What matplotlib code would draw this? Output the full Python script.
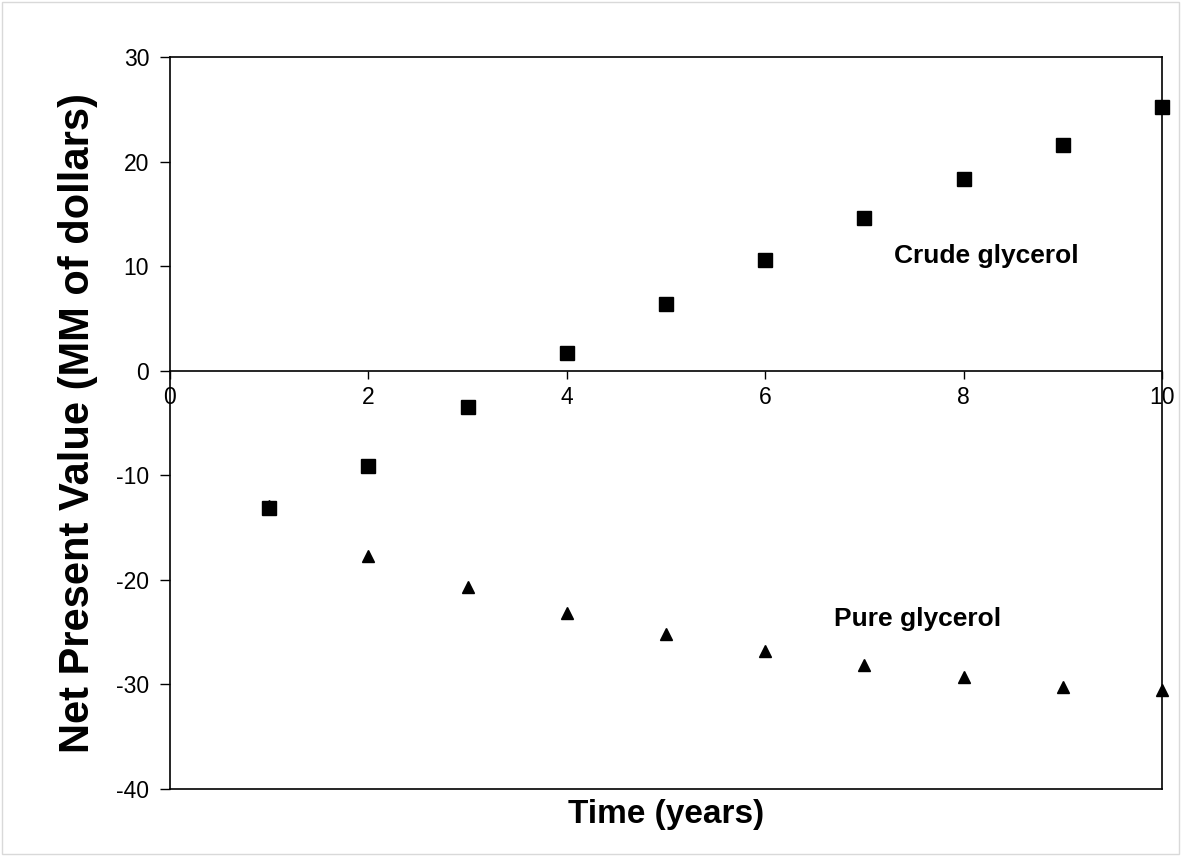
import matplotlib.pyplot as plt
from matplotlib.patches import Rectangle

years = [1, 2, 3, 4, 5, 6, 7, 8, 9, 10]
crude_npv = [-13.1, -9.1, -3.5, 1.7, 6.4, 10.6, 14.6, 18.3, 21.6, 25.2]
pure_npv = [-12.9, -17.7, -20.7, -23.2, -25.2, -26.8, -28.1, -29.3, -30.2, -30.5]
x_ticks = [0, 2, 4, 6, 8, 10]
y_ticks = [-40, -30, -20, -10, 0, 10, 20, 30]

plt.rcParams['font.family'] = ['Liberation Sans', 'DejaVu Sans']
plt.rcParams['axes.unicode_minus'] = False

fig = plt.figure(figsize=(11.81, 8.56), dpi=100)
ax = fig.add_axes([170 / 1181, 1 - 789 / 856, 992 / 1181, 732 / 856])

ax.plot(years, crude_npv, 's', color='black', markersize=9.5, clip_on=False, zorder=5)
ax.plot(years, pure_npv, '^', color='black', markersize=9, clip_on=False, zorder=5)

ax.set_xlim(0, 10)
ax.set_ylim(-40, 30)

# x axis crosses at zero, keep box around plot area
ax.spines['bottom'].set_position(('data', 0))
ax.axhline(-40, color='black', lw=1.2, clip_on=False)
for s in ax.spines.values():
    s.set_linewidth(1.2)

ax.set_xticks(x_ticks)
ax.set_yticks(y_ticks)
ax.tick_params(axis='x', direction='out', length=6, width=1, labelsize=16.5, pad=5)
ax.tick_params(axis='y', direction='out', length=7, width=1, labelsize=16.5, pad=8)

ax.text(7.3, 11.0, 'Crude glycerol', fontsize=19, fontweight='bold', va='center', ha='left')
ax.text(6.69, -23.7, 'Pure glycerol', fontsize=19, fontweight='bold', va='center', ha='left')

fig.text(666 / 1181, 1 - 815 / 856, 'Time (years)', fontsize=24, fontweight='bold',
         ha='center', va='center', family=['Liberation Sans Narrow', 'Liberation Sans'])
fig.text(78 / 1181, 1 - 423 / 856, 'Net Present Value (MM of dollars)', fontsize=30,
         fontweight='bold', rotation=90, ha='center', va='center')

fig.patches.append(Rectangle((0.002, 0.002), 0.996, 0.996, transform=fig.transFigure,
                             fill=False, edgecolor='#d9d9d9', lw=1))

fig.savefig('out.png', dpi=100)
